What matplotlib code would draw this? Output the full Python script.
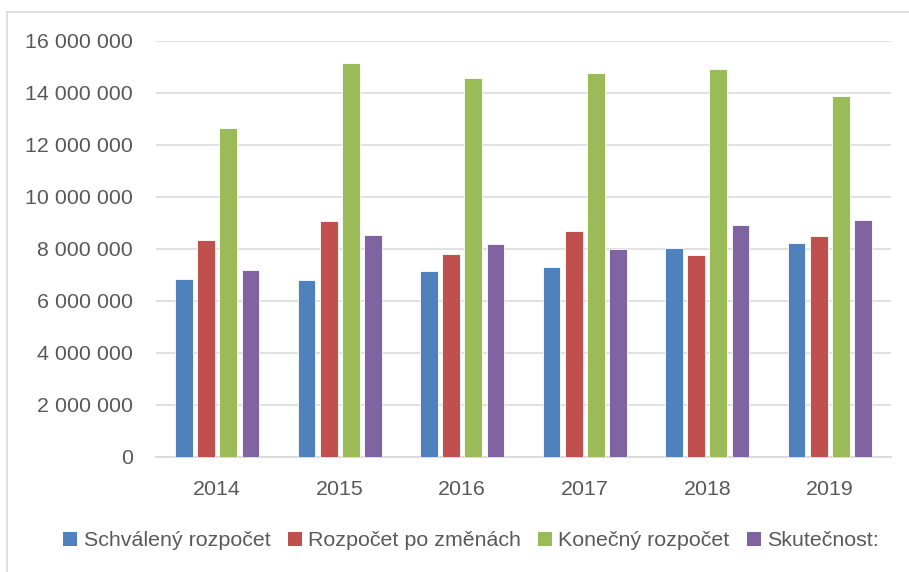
import matplotlib
matplotlib.use("Agg")
import matplotlib.pyplot as plt
from matplotlib.lines import Line2D
from matplotlib.patches import Patch
import numpy as np

years = ["2014", "2015", "2016", "2017", "2018", "2019"]
series_names = ["Schválený rozpočet", "Rozpočet po změnách", "Konečný rozpočet", "Skutečnost:"]
schvaleny = [6820000, 6810000, 7150000, 7300000, 8040000, 8210000]
po_zmenach = [8350000, 9050000, 7810000, 8670000, 7760000, 8480000]
konecny = [12640000, 15140000, 14570000, 14770000, 14920000, 13860000]
skutecnost = [7190000, 8530000, 8170000, 7990000, 8900000, 9090000]
yticks = [0, 2000000, 4000000, 6000000, 8000000, 10000000, 12000000, 14000000, 16000000]

colors = ["#4F81BD", "#C0504D", "#9BBB59", "#8064A2"]
text_color = "#595959"
grid_color = "#D9D9D9"

plt.rcParams['font.family'] = ['Liberation Sans', 'DejaVu Sans']

fig = plt.figure(figsize=(9.09, 5.72), dpi=100)
ax = fig.add_axes([156/909, 1 - 456.7/572, (891 - 156)/909, (456.7 - 40.7)/572])

x = np.arange(len(years))
width = 0.145
step = 0.181
data = [schvaleny, po_zmenach, konecny, skutecnost]
for i, (vals, c) in enumerate(zip(data, colors)):
    ax.bar(x + (i - 1.5) * step, vals, width, color=c, edgecolor="white",
           linewidth=0.6, zorder=3)

ax.set_xlim(-0.5, len(years) - 0.5)
ax.set_ylim(0, 16000000)
ax.set_yticks(yticks)
ax.set_yticklabels([f"{v:,}".replace(",", " ") for v in yticks])
ax.set_xticks(x)
ax.set_xticklabels(years)
ax.tick_params(axis="y", length=0, pad=16.5, labelsize=15.4, labelcolor=text_color)
ax.tick_params(axis="x", length=0, pad=16.5, labelsize=15.4, labelcolor=text_color)
ax.yaxis.grid(True, color=grid_color, linewidth=1.1, zorder=0)
ax.set_axisbelow(True)
for s in ["top", "right", "left"]:
    ax.spines[s].set_visible(False)
ax.spines["bottom"].set_color(grid_color)
ax.spines["bottom"].set_linewidth(1.3)

handles = [Patch(facecolor=c, edgecolor="none") for c in colors]
fig.legend(handles, series_names, loc="center", bbox_to_anchor=(471/909, 31/572),
           ncol=4, frameon=False, fontsize=15.4, labelcolor=text_color,
           handlelength=0.65, handleheight=0.65, handletextpad=0.3,
           columnspacing=0.8)

# chart area border (left and top visible)
fig.add_artist(Line2D([7/909, 7/909], [0, 1 - 11.7/572], transform=fig.transFigure,
                      color=grid_color, linewidth=1.2))
fig.add_artist(Line2D([7/909, 1], [1 - 11.7/572, 1 - 11.7/572], transform=fig.transFigure,
                      color=grid_color, linewidth=1.2))

fig.savefig("out.png", dpi=100, facecolor="white")
